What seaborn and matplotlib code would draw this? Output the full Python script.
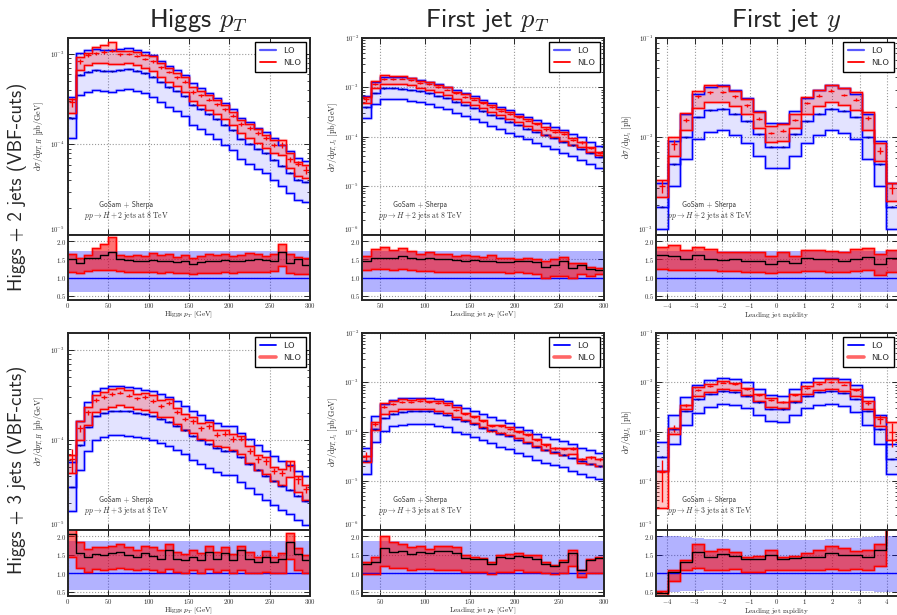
import numpy as np
import matplotlib
matplotlib.use("Agg")
import matplotlib.pyplot as plt
from matplotlib.lines import Line2D
import seaborn as sns

# ---- bin edges ----
hpt_edges = np.arange(0, 310, 10)
jpt_edges = np.arange(30, 310, 10)
y_edges = np.linspace(-4.4, 4.4, 21)

# ---- Higgs + 2 jets ----
# LO central values (pb/GeV or pb)
lo_h2_hpt = [1.95e-4, 5.9e-4, 6.35e-4, 6.6e-4, 6.5e-4, 6.4e-4, 6.6e-4, 6.8e-4, 6.5e-4, 6.1e-4,
             5.6e-4, 4.9e-4, 4.3e-4, 3.9e-4, 3.4e-4, 2.75e-4, 2.45e-4, 2.15e-4, 1.9e-4, 1.65e-4,
             1.43e-4, 1.15e-4, 1.02e-4, 8.9e-5, 8.0e-5, 6.8e-5, 5.8e-5, 4.9e-5, 4.1e-5, 3.85e-5]
# NLO / LO (central, upper, lower)
r_h2_hpt = [1.50, 1.40, 1.55, 1.55, 1.62, 1.70, 1.50, 1.48, 1.47, 1.45, 1.48, 1.45, 1.46, 1.42, 1.45,
            1.38, 1.43, 1.45, 1.47, 1.48, 1.45, 1.46, 1.48, 1.50, 1.48, 1.45, 1.70, 1.40, 1.50, 1.35]
rhi_h2_hpt = [1.65, 1.55, 1.62, 1.82, 1.92, 2.12, 1.62, 1.60, 1.62, 1.60, 1.68, 1.62, 1.64, 1.58, 1.62,
              1.55, 1.60, 1.64, 1.62, 1.65, 1.60, 1.62, 1.67, 1.65, 1.60, 1.65, 1.92, 1.65, 1.57, 1.55]
rlo_h2_hpt = [1.15, 1.12, 1.18, 1.20, 1.22, 1.22, 1.18, 1.17, 1.16, 1.15, 1.15, 1.13, 1.15, 1.13, 1.12,
              1.10, 1.12, 1.13, 1.14, 1.15, 1.14, 1.15, 1.15, 1.16, 1.15, 1.18, 1.32, 1.12, 1.10, 1.10]
err_h2_hpt = [0.12, 0.06, 0.05, 0.04, 0.04, 0.04, 0.03, 0.03, 0.03, 0.03, 0.03, 0.03, 0.03, 0.04, 0.04,
              0.04, 0.04, 0.04, 0.04, 0.04, 0.04, 0.05, 0.05, 0.05, 0.05, 0.06, 0.08, 0.06, 0.06, 0.10]

lo_h2_jpt = [3.9e-4, 7.6e-4, 9.5e-4, 9.6e-4, 9.4e-4, 8.9e-4, 8.2e-4, 7.5e-4, 6.7e-4, 6.0e-4,
             5.1e-4, 4.4e-4, 3.8e-4, 3.25e-4, 2.75e-4, 2.35e-4, 2.0e-4, 1.7e-4, 1.45e-4, 1.25e-4,
             1.07e-4, 9.2e-5, 7.8e-5, 6.6e-5, 5.6e-5, 4.6e-5, 3.8e-5]
r_h2_jpt = [1.45, 1.55, 1.55, 1.55, 1.60, 1.55, 1.50, 1.55, 1.50, 1.50, 1.48, 1.45, 1.48, 1.45,
            1.45, 1.42, 1.42, 1.45, 1.45, 1.42, 1.30, 1.35, 1.45, 1.28, 1.35, 1.25, 1.22]
rhi_h2_jpt = [1.60, 1.80, 1.85, 1.75, 1.82, 1.72, 1.65, 1.70, 1.65, 1.65, 1.60, 1.62, 1.60, 1.58,
              1.62, 1.55, 1.55, 1.52, 1.55, 1.50, 1.45, 1.50, 1.58, 1.40, 1.40, 1.30, 1.28]
rlo_h2_jpt = [1.20, 1.25, 1.25, 1.22, 1.25, 1.22, 1.18, 1.18, 1.17, 1.15, 1.15, 1.15, 1.15, 1.15,
              1.15, 1.15, 1.12, 1.15, 1.13, 1.10, 1.00, 1.05, 1.05, 1.00, 1.10, 1.05, 1.10]
err_h2_jpt = [0.10, 0.05, 0.04, 0.04, 0.04, 0.04, 0.04, 0.04, 0.04, 0.04, 0.04, 0.04, 0.04, 0.04,
              0.04, 0.04, 0.04, 0.04, 0.04, 0.04, 0.05, 0.05, 0.05, 0.05, 0.05, 0.05, 0.06]

lo_h2_y = [1.94e-3, 5.2e-3, 9.8e-3, 1.58e-2, 1.85e-2, 1.92e-2, 1.71e-2, 1.43e-2, 1.05e-2, 7.9e-3,
           7.9e-3, 1.05e-2, 1.43e-2, 1.71e-2, 1.92e-2, 1.82e-2, 1.58e-2, 9.8e-3, 5.2e-3, 1.94e-3]
r_h2_y = [1.62, 1.60, 1.50, 1.62, 1.52, 1.48, 1.50, 1.45, 1.45, 1.38,
          1.45, 1.40, 1.53, 1.52, 1.52, 1.45, 1.50, 1.58, 1.38, 1.55]
rhi_h2_y = [1.85, 1.90, 1.75, 1.85, 1.80, 1.70, 1.70, 1.70, 1.70, 1.60,
            1.70, 1.60, 1.75, 1.75, 1.72, 1.70, 1.78, 1.82, 1.65, 1.75]
rlo_h2_y = [1.25, 1.22, 1.20, 1.22, 1.20, 1.18, 1.18, 1.17, 1.15, 1.12,
            1.15, 1.15, 1.18, 1.18, 1.17, 1.15, 1.18, 1.20, 1.08, 1.15]
err_h2_y = [0.15, 0.12, 0.05, 0.04, 0.03, 0.03, 0.03, 0.03, 0.04, 0.03,
            0.04, 0.03, 0.03, 0.03, 0.03, 0.03, 0.03, 0.04, 0.08, 0.13]

# ---- Higgs + 3 jets ----
lo_h3_hpt = [3.0e-5, 8.7e-5, 1.4e-4, 1.85e-4, 2.0e-4, 2.1e-4, 2.12e-4, 2.08e-4, 2.0e-4, 1.93e-4,
             1.85e-4, 1.72e-4, 1.6e-4, 1.45e-4, 1.28e-4, 1.12e-4, 1.0e-4, 9.0e-5, 8.2e-5, 7.6e-5,
             7.6e-5, 6.4e-5, 5.4e-5, 4.7e-5, 4.0e-5, 3.5e-5, 3.1e-5, 2.8e-5, 2.4e-5, 2.1e-5]
r_h3_hpt = [2.05, 1.55, 1.45, 1.52, 1.50, 1.55, 1.58, 1.50, 1.45, 1.55, 1.48, 1.40, 1.62, 1.40, 1.35,
            1.45, 1.35, 1.58, 1.40, 1.55, 1.35, 1.62, 1.40, 1.30, 1.45, 1.30, 1.38, 1.85, 1.52, 1.35]
rhi_h3_hpt = [2.30, 1.85, 1.65, 1.72, 1.70, 1.75, 1.80, 1.72, 1.62, 1.75, 1.70, 1.62, 1.80, 1.58, 1.52,
              1.62, 1.55, 1.75, 1.58, 1.72, 1.52, 1.75, 1.58, 1.45, 1.60, 1.45, 1.55, 2.10, 1.68, 1.50]
rlo_h3_hpt = [1.45, 1.15, 1.05, 1.12, 1.10, 1.12, 1.15, 1.12, 1.10, 1.12, 1.10, 1.05, 1.12, 1.05, 1.02,
              1.08, 1.02, 1.12, 1.05, 1.10, 1.02, 1.10, 1.02, 1.00, 1.05, 1.00, 1.02, 1.40, 1.10, 1.02]
err_h3_hpt = [0.30, 0.10, 0.07, 0.05, 0.05, 0.04, 0.04, 0.04, 0.05, 0.05, 0.05, 0.05, 0.05, 0.05, 0.05,
              0.06, 0.06, 0.06, 0.06, 0.07, 0.07, 0.07, 0.07, 0.08, 0.08, 0.08, 0.08, 0.12, 0.10, 0.10]

lo_h3_jpt = [2.5e-5, 1.1e-4, 1.9e-4, 2.3e-4, 2.5e-4, 2.6e-4, 2.6e-4, 2.55e-4, 2.4e-4, 2.2e-4,
             1.8e-4, 1.6e-4, 1.4e-4, 1.2e-4, 1.05e-4, 9.0e-5, 8.0e-5, 6.7e-5, 5.8e-5, 4.8e-5,
             4.2e-5, 3.8e-5, 3.4e-5, 2.9e-5, 2.5e-5, 2.2e-5, 1.95e-5]
r_h3_jpt = [1.25, 1.30, 1.68, 1.58, 1.60, 1.52, 1.58, 1.55, 1.60, 1.60, 1.55, 1.42, 1.40, 1.38,
            1.25, 1.45, 1.42, 1.48, 1.45, 1.40, 1.25, 1.20, 1.30, 1.55, 1.10, 1.35, 1.42]
rhi_h3_jpt = [1.30, 1.45, 2.00, 1.85, 1.80, 1.70, 1.75, 1.65, 1.75, 1.75, 1.72, 1.50, 1.45, 1.42,
              1.30, 1.50, 1.52, 1.55, 1.50, 1.50, 1.30, 1.22, 1.35, 1.62, 1.10, 1.40, 1.45]
rlo_h3_jpt = [0.97, 0.97, 1.20, 1.15, 1.15, 1.10, 1.12, 1.12, 1.10, 1.10, 1.10, 1.05, 1.05, 1.05,
              0.98, 1.05, 1.05, 1.08, 1.05, 1.05, 1.00, 0.98, 1.00, 1.20, 0.90, 1.00, 1.02]
err_h3_jpt = [0.20, 0.10, 0.06, 0.05, 0.05, 0.04, 0.04, 0.04, 0.04, 0.04, 0.05, 0.05, 0.05, 0.05,
              0.05, 0.05, 0.05, 0.05, 0.05, 0.05, 0.06, 0.06, 0.06, 0.06, 0.07, 0.07, 0.07]

lo_h3_y = [3.1e-4, 1.1e-3, 2.6e-3, 4.5e-3, 5.8e-3, 6.5e-3, 6.2e-3, 5.3e-3, 3.9e-3, 2.9e-3,
           2.8e-3, 3.9e-3, 5.3e-3, 6.3e-3, 6.5e-3, 6.0e-3, 4.6e-3, 2.6e-3, 1.1e-3, 2.8e-4]
r_h3_y = [0.48, 1.05, 1.30, 1.58, 1.45, 1.52, 1.48, 1.38, 1.40, 1.50,
          1.40, 1.42, 1.45, 1.45, 1.55, 1.50, 1.50, 1.45, 1.62, 3.50]
rhi_h3_y = [0.52, 1.08, 1.35, 1.78, 1.60, 1.65, 1.58, 1.45, 1.48, 1.62,
            1.45, 1.48, 1.55, 1.62, 1.75, 1.68, 1.60, 1.62, 1.78, 5.50]
rlo_h3_y = [0.09, 0.80, 1.08, 1.15, 1.10, 1.10, 1.12, 1.05, 1.05, 1.10,
            1.08, 1.08, 1.10, 1.10, 1.12, 1.10, 1.12, 1.08, 1.20, 2.40]
err_h3_y = [0.75, 0.15, 0.08, 0.05, 0.04, 0.04, 0.04, 0.04, 0.05, 0.05,
            0.05, 0.05, 0.04, 0.04, 0.04, 0.04, 0.05, 0.08, 0.20, 0.50]

# LO scale band relative to LO central
band_h2 = (1.72, 0.60)
band_h3_hpt = (1.88, 0.54)
band_h3_jpt = (1.88, 0.55)
bup_h3_y = [2.00, 2.00, 1.97, 1.95, 1.93, 1.92, 1.91, 1.90, 1.90, 1.90,
            1.90, 1.90, 1.90, 1.91, 1.92, 1.93, 1.95, 1.97, 2.00, 2.00]
bdn_h3_y = [0.50, 0.50, 0.52, 0.53, 0.54, 0.55, 0.55, 0.56, 0.56, 0.56,
            0.56, 0.56, 0.56, 0.55, 0.55, 0.54, 0.53, 0.52, 0.50, 0.50]

col_titles = [r"Higgs $p_T$", r"First jet $p_T$", r"First jet $y$"]
row_labels = ["Higgs + 2 jets (VBF-cuts)", "Higgs + 3 jets (VBF-cuts)"]
xlabels = [r"$\mathrm{Higgs}\ p_T\ [\mathrm{GeV}]$",
           r"$\mathrm{Leading\ jet}\ p_T\ [\mathrm{GeV}]$",
           r"$\mathrm{Leading\ jet\ rapidity}$"]
ylabels = [r"$\mathrm{d}\sigma/\mathrm{d}p_{T,H}\ [\mathrm{pb/GeV}]$",
           r"$\mathrm{d}\sigma/\mathrm{d}p_{T,J_1}\ [\mathrm{pb/GeV}]$",
           r"$\mathrm{d}\sigma/\mathrm{d}y_{J_1}\ [\mathrm{pb}]$"]
procs = [r"$pp \to H + 2\ \mathrm{jets\ at\ 8\ TeV}$", r"$pp \to H + 3\ \mathrm{jets\ at\ 8\ TeV}$"]

sns.set_style("ticks")
plt.rcParams.update({
    "mathtext.fontset": "cm",
    "axes.linewidth": 1.4,
    "xtick.direction": "in", "ytick.direction": "in",
    "xtick.top": True, "ytick.right": True,
    "xtick.major.size": 4, "ytick.major.size": 4,
    "xtick.minor.size": 2, "ytick.minor.size": 2,
    "xtick.major.width": 0.7, "ytick.major.width": 0.7,
})
plt.rcParams["font.family"] = ["cmss10", "DejaVu Sans"]

BLUE = "#0000ff"
RED = "#ff0000"


def stepped(vals):
    v = np.asarray(vals, dtype=float)
    return np.append(v, v[-1])


def step_line(ax, edges, vals, color, lw=1.0, halo=True):
    y = stepped(vals)
    if halo:
        sns.lineplot(x=edges, y=y, ax=ax, color=color, lw=lw * 2.3, alpha=0.22,
                     drawstyle="steps-post", estimator=None, sort=False)
    sns.lineplot(x=edges, y=y, ax=ax, color=color, lw=lw,
                 drawstyle="steps-post", estimator=None, sort=False)


def draw(ax, rax, edges, lo, r, rhi, rlo, bup, bdn, err):
    lo = np.asarray(lo, dtype=float)
    n = len(lo)
    r, rhi, rlo, err = (np.asarray(a, dtype=float) for a in (r, rhi, rlo, err))
    bup = np.broadcast_to(np.asarray(bup, dtype=float), n)
    bdn = np.broadcast_to(np.asarray(bdn, dtype=float), n)
    centers = 0.5 * (edges[:-1] + edges[1:])
    nlo = lo * r

    # main panel
    ax.fill_between(edges, stepped(lo * bdn), stepped(lo * bup), step="post",
                    color=BLUE, alpha=0.11, lw=0)
    ax.fill_between(edges, stepped(lo * rlo), stepped(lo * rhi), step="post",
                    color=RED, alpha=0.22, lw=0)
    for v in (lo * bup, lo, lo * bdn):
        step_line(ax, edges, v, BLUE)
    for v in (lo * rhi, lo * rlo):
        step_line(ax, edges, v, RED)
    ax.errorbar(centers, lo, yerr=lo * 0.01, fmt="_", color="#0000aa", ms=3, mew=1,
                elinewidth=0.8, capsize=0)
    ax.errorbar(centers, nlo, yerr=nlo * err, fmt="_", color=RED, ms=4, mew=1,
                elinewidth=1, capsize=0)

    # ratio panel
    rax.fill_between(edges, stepped(bdn), stepped(bup), step="post", color=BLUE, alpha=0.3, lw=0)
    rax.axhline(1.0, color=BLUE, lw=1)
    rax.fill_between(edges, stepped(rlo), stepped(rhi), step="post", color=RED, alpha=0.55, lw=0)
    step_line(rax, edges, rhi, RED)
    step_line(rax, edges, rlo, RED)
    step_line(rax, edges, r, "black", halo=False)


panels = [
    [(hpt_edges, lo_h2_hpt, r_h2_hpt, rhi_h2_hpt, rlo_h2_hpt, band_h2[0], band_h2[1], err_h2_hpt),
     (jpt_edges, lo_h2_jpt, r_h2_jpt, rhi_h2_jpt, rlo_h2_jpt, band_h2[0], band_h2[1], err_h2_jpt),
     (y_edges, lo_h2_y, r_h2_y, rhi_h2_y, rlo_h2_y, band_h2[0], band_h2[1], err_h2_y)],
    [(hpt_edges, lo_h3_hpt, r_h3_hpt, rhi_h3_hpt, rlo_h3_hpt, band_h3_hpt[0], band_h3_hpt[1], err_h3_hpt),
     (jpt_edges, lo_h3_jpt, r_h3_jpt, rhi_h3_jpt, rlo_h3_jpt, band_h3_jpt[0], band_h3_jpt[1], err_h3_jpt),
     (y_edges, lo_h3_y, r_h3_y, rhi_h3_y, rlo_h3_y, bup_h3_y, bdn_h3_y, err_h3_y)],
]

ylims = [[(1e-5, 1.5e-3), (1e-6, 1e-2), (1e-3, 1e-1)],
         [(1e-5, 1.55e-3), (1e-6, 1e-2), (1e-5, 1e-1)]]
xlims = [(0, 300), (30, 300), (-4.4, 4.4)]
xticks = [np.arange(0, 301, 50), np.arange(50, 301, 50), np.arange(-4, 5, 1)]

W, H = 897.0, 615.0
col_x = [68, 362, 656]
rows = [(38, 235, 300), (333, 530, 596)]

fig = plt.figure(figsize=(W / 100, H / 100), dpi=100)


def add_ax(x0, y0, w, h, **kw):
    return fig.add_axes([x0 / W, 1 - (y0 + h) / H, w / W, h / H], **kw)


for i, (top, mid, bot) in enumerate(rows):
    for j, x0 in enumerate(col_x):
        ax = add_ax(x0, top, 242, mid - top)
        rax = add_ax(x0, mid, 242, bot - mid, sharex=ax)
        ax.set_yscale("log")
        draw(ax, rax, *panels[i][j])

        ax.set_xlim(*xlims[j])
        lo_y, hi_y = ylims[i][j]
        ax.set_ylim(lo_y, hi_y)
        exps = range(int(round(np.log10(lo_y))), int(np.floor(np.log10(hi_y))) + 1)
        ax.set_yticks([10.0 ** k for k in exps], labels=[r"$10^{%d}$" % k for k in exps])
        ax.tick_params(axis="y", labelsize=4.8, pad=2)
        ax.tick_params(axis="x", labelbottom=False)
        # lift the bottom decade label so it clears the ratio panel's top label
        ax.get_yticklabels()[0].set_verticalalignment("bottom")
        ax.set_ylabel(ylabels[j], fontsize=5.8, labelpad=3)
        ax.set_xlabel("")
        ax.grid(True, which="major", ls=":", color="#999999", lw=0.8)

        rax.set_ylim(0.39, 2.17)
        rax.set_yticks([0.5, 1.0, 1.5, 2.0], labels=[r"$0.5$", r"$1.0$", r"$1.5$", r"$2.0$"])
        rax.set_xticks(xticks[j], labels=[r"$%d$" % t for t in xticks[j]])
        rax.tick_params(labelsize=4.8, pad=1)
        rax.set_xlabel(xlabels[j], fontsize=5.3, va="top")
        # place the axis label just below the tick labels (px offset from ratio bottom)
        rax.xaxis.set_label_coords(0.5, -10.0 / (bot - mid))
        rax.set_ylabel("")
        rax.grid(True, which="major", ls=":", color="#999999", lw=0.8)

        tx = 0.22 if j == 2 else 0.24
        ax.text(tx, 0.14, "GoSam + Sherpa", transform=ax.transAxes, ha="center",
                fontsize=5.3, color="#333333")
        ax.text(tx, 0.085, procs[i], transform=ax.transAxes, ha="center",
                fontsize=5.5, color="#333333")

        if i == 0:
            handles = [Line2D([], [], color=BLUE, lw=1.6, alpha=0.65),
                       Line2D([], [], color=RED, lw=1.3)]
        else:
            handles = [Line2D([], [], color=BLUE, lw=1.3),
                       Line2D([], [], color=RED, lw=2.6, alpha=0.6)]
        leg = ax.legend(handles, ["LO", "NLO"], loc="upper right", fontsize=6.5,
                        fancybox=False, framealpha=1, edgecolor="black",
                        handlelength=1.8, borderaxespad=0.45, borderpad=0.5,
                        labelspacing=0.45)
        leg.get_frame().set_linewidth(1.0)

for j, cx in enumerate([198, 487, 786]):
    fig.text(cx / W, 1 - 21 / H, col_titles[j], ha="center", va="center", fontsize=19)

for i, cy in enumerate([187, 470]):
    fig.text(17 / W, 1 - cy / H, row_labels[i], rotation=90, ha="center", va="center",
             fontsize=13.5)

fig.savefig("out.png", dpi=100)
